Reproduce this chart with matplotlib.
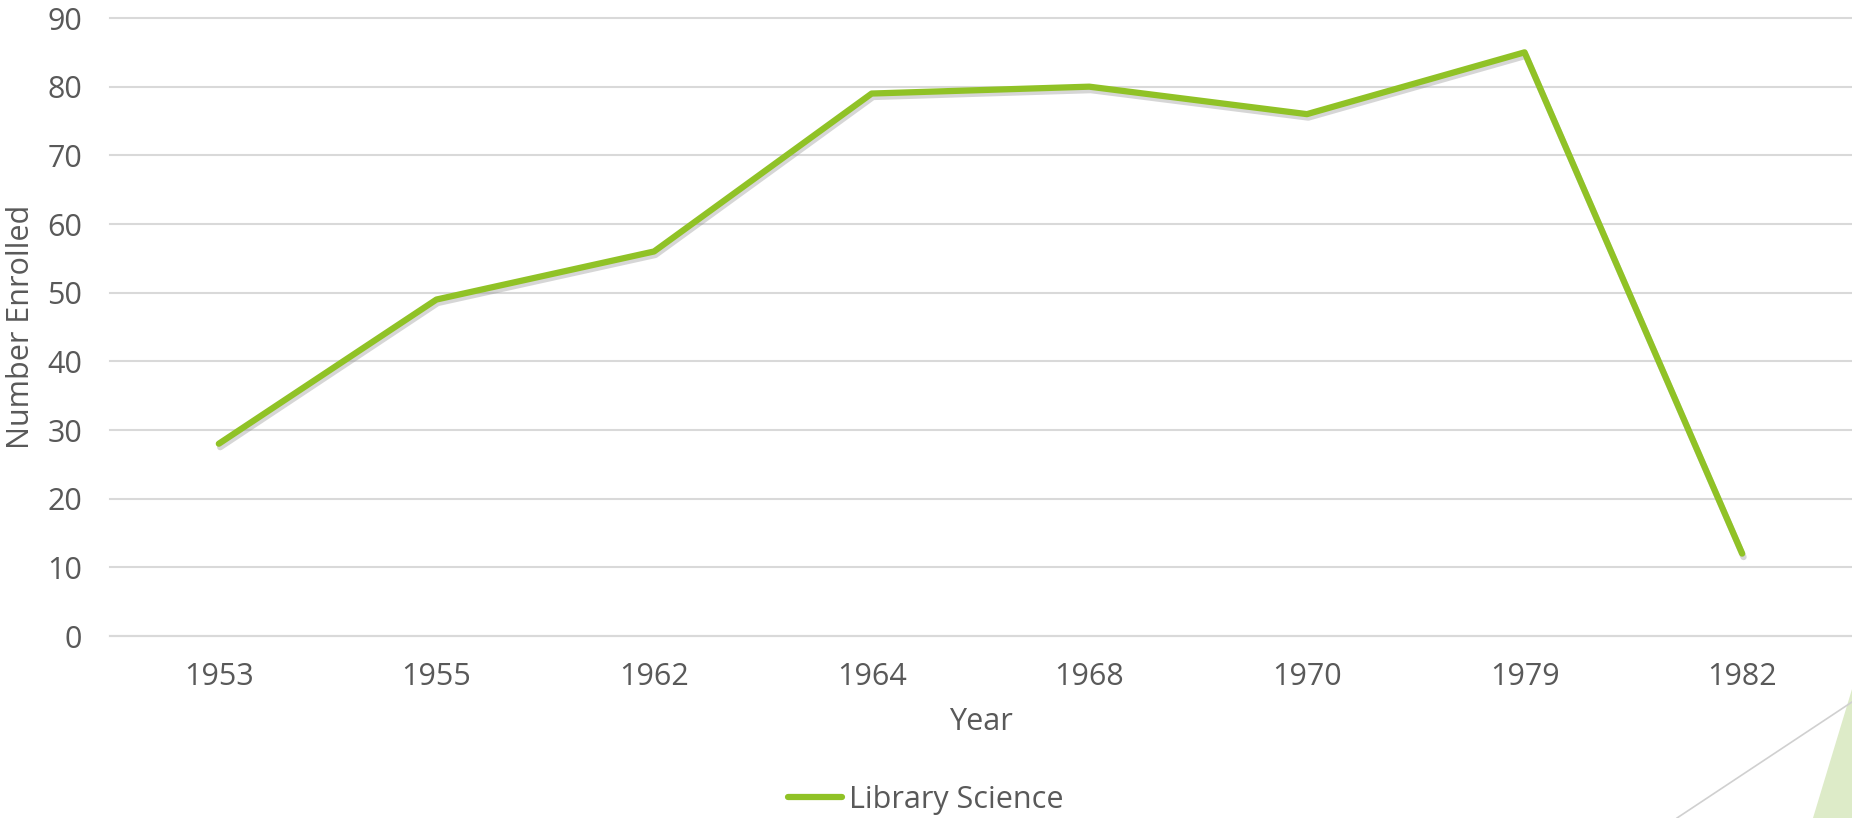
import matplotlib.pyplot as plt
import matplotlib.patheffects as pe
from matplotlib.patches import Polygon
from matplotlib.lines import Line2D

years = ["1953", "1955", "1962", "1964", "1968", "1970", "1979", "1982"]
enrolled = [28, 49, 56, 79, 80, 76, 85, 12]
series_name = "Library Science"

GREEN = "#90C226"
TEXT = "#595959"
GRID = "#D9D9D9"
FS = 22

plt.rcParams["font.family"] = ["Open Sans", "DejaVu Sans"]


def main():
    fig = plt.figure(figsize=(18.52, 8.18), dpi=100)
    ax = fig.add_axes([110 / 1852, 1 - 636 / 818, 1741 / 1852, 618 / 818])

    x = range(len(years))
    ax.plot(x, enrolled, color=GREEN, lw=4.5, solid_capstyle="round",
            solid_joinstyle="round", label=series_name,
            path_effects=[pe.SimpleLineShadow(offset=(1, -2.5), shadow_color="#8a8a8a", alpha=0.35),
                          pe.Normal()])

    ax.set_xlim(-0.5, len(years) - 0.5)
    ax.set_ylim(0, 90)
    ax.set_yticks(range(0, 91, 10))
    ax.set_xticks(list(x))
    ax.set_xticklabels(years)
    ax.grid(axis="y", color=GRID, lw=1.5)
    for gl in ax.get_ygridlines():
        gl.set_clip_on(False)
    ax.set_axisbelow(True)
    for side in ["top", "right", "left"]:
        ax.spines[side].set_visible(False)
    ax.spines["bottom"].set_color(GRID)
    ax.spines["bottom"].set_linewidth(1.5)
    ax.tick_params(length=0, labelsize=FS, labelcolor=TEXT)
    ax.tick_params(axis="y", pad=20)
    ax.tick_params(axis="x", pad=19)

    ax.set_xlabel("Year", fontsize=FS, color=TEXT)
    ax.xaxis.set_label_coords(0.5, -0.115)
    fig.text(21 / 1852, 1 - 327 / 818, "Number Enrolled", rotation=90, fontsize=FS,
             color=TEXT, ha="center", va="center")

    handle = Line2D([], [], color=GREEN, lw=4.5, solid_capstyle="round")
    fig.legend([handle], [series_name], loc="center", bbox_to_anchor=(0.5, 1 - 800 / 818),
               frameon=False, fontsize=FS, labelcolor=TEXT, handlelength=1.75,
               handletextpad=0.25, borderpad=0, borderaxespad=0)

    # slide decoration in the bottom right corner
    fig.patches.append(Polygon([(1813 / 1852, 0), (1.001, 1 - 683 / 818), (1.001, 0)],
                               closed=True, transform=fig.transFigure,
                               facecolor="#DDEBC8", edgecolor="none"))
    fig.lines.append(Line2D([1677 / 1852, 1], [0, 1 - 702 / 818], transform=fig.transFigure,
                            color="#D0D0D0", lw=1.2))

    fig.savefig("out.png", dpi=100)


if __name__ == "__main__":
    main()
